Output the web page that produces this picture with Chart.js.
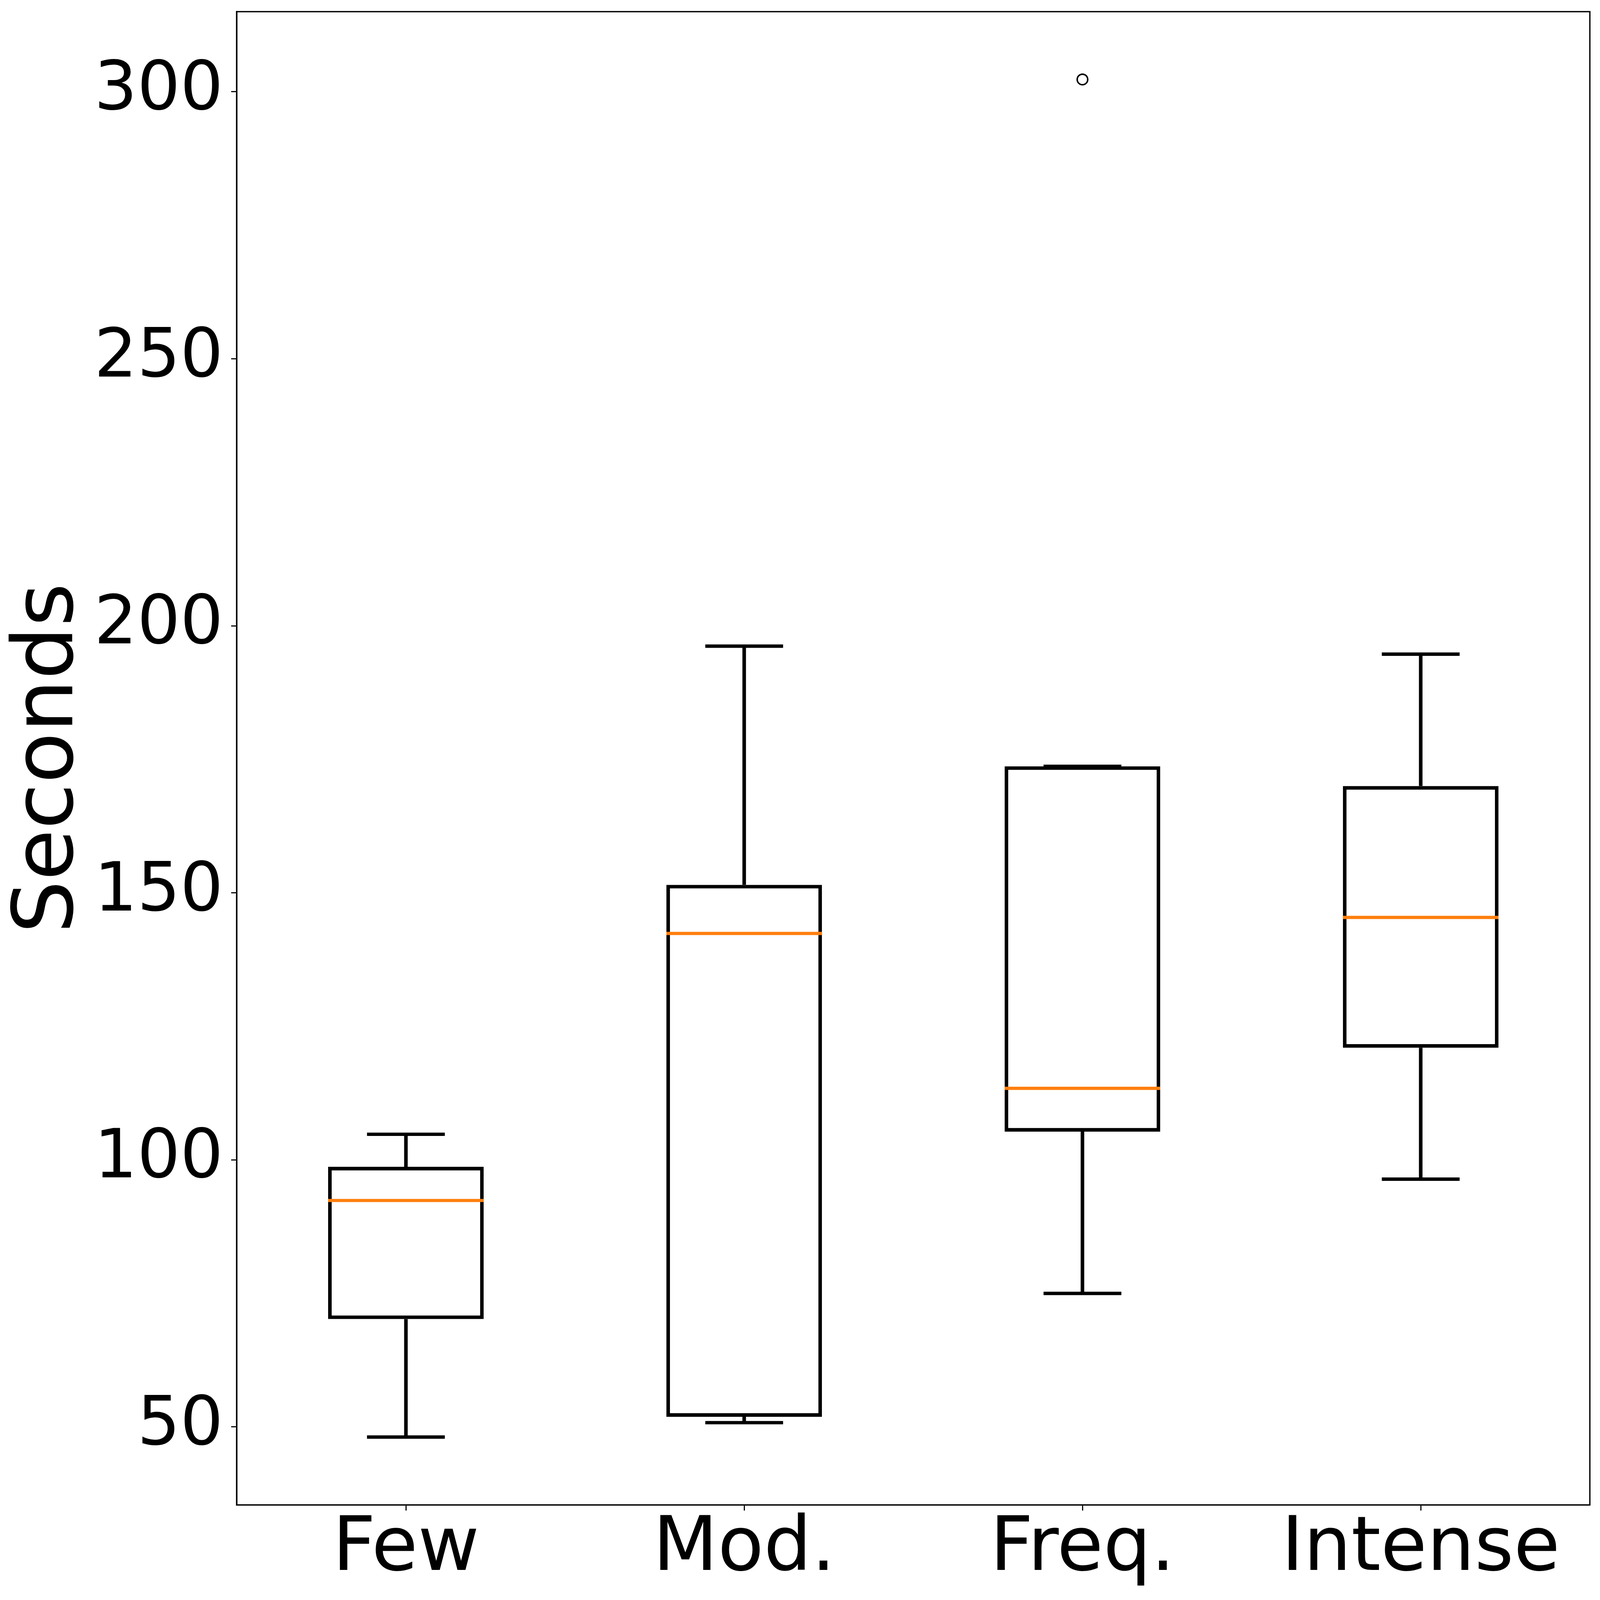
<!DOCTYPE html>
<html>
<head>
<meta charset="utf-8">
<script src="https://cdn.jsdelivr.net/npm/chart.js@4.4.1/dist/chart.umd.min.js"></script>
<style>
  html, body { margin: 0; padding: 0; background: #fff; overflow: hidden; }
  canvas { display: block; }
</style>
</head>
<body>
<canvas id="myChart"></canvas>
<script>
// data
const categories = ['Few', 'Mod.', 'Freq.', 'Intense'];
const whiskerLow = [48.1, 50.8, 75.0, 96.4];
const q1 = [70.2, 51.9, 105.3, 121.0];
const median = [92.4, 142.4, 113.4, 145.4];
const q3 = [98.7, 151.5, 173.7, 170.0];
const whiskerHigh = [104.8, 196.2, 173.7, 194.7];
const outliers = [null, null, 302.3, null];
const yTicks = [50, 100, 150, 200, 250, 300];

// sizes below are given in pixels of the 4257 px wide picture
const W = window.innerWidth, H = window.innerHeight;
const k = W / 4257;
const px = v => v * k;

const canvas = document.getElementById('myChart');
canvas.width = W;
canvas.height = H;

Chart.defaults.font.family = '"DejaVu Sans", sans-serif';
Chart.defaults.color = '#000';

// whiskers, caps, medians and the frame
const boxExtras = {
    id: 'boxExtras',
    afterDatasetsDraw(chart) {
        const ctx = chart.ctx;
        const x = chart.scales.x;
        const y = chart.scales.y;
        const bars = chart.getDatasetMeta(0).data;
        ctx.save();
        categories.forEach((c, i) => {
            const cx = x.getPixelForValue(i);
            const half = bars[i].width / 2;
            const cap = half / 2;
            const yLow = y.getPixelForValue(whiskerLow[i]);
            const yHigh = y.getPixelForValue(whiskerHigh[i]);
            ctx.strokeStyle = '#000';
            ctx.lineWidth = px(9.5);
            ctx.beginPath();
            ctx.moveTo(cx, y.getPixelForValue(q1[i]));
            ctx.lineTo(cx, yLow);
            ctx.moveTo(cx, y.getPixelForValue(q3[i]));
            ctx.lineTo(cx, yHigh);
            ctx.stroke();
            ctx.lineWidth = px(9);
            ctx.beginPath();
            ctx.moveTo(cx - cap, yLow);
            ctx.lineTo(cx + cap, yLow);
            ctx.moveTo(cx - cap, yHigh);
            ctx.lineTo(cx + cap, yHigh);
            ctx.stroke();
            // median
            const yMed = y.getPixelForValue(median[i]);
            ctx.strokeStyle = '#ff7f0e';
            ctx.lineWidth = px(8.5);
            ctx.beginPath();
            ctx.moveTo(cx - half, yMed);
            ctx.lineTo(cx + half, yMed);
            ctx.stroke();
        });
        const a = chart.chartArea;
        ctx.strokeStyle = '#000';
        ctx.lineWidth = px(3.5);
        ctx.strokeRect(a.left, a.top, a.right - a.left, a.bottom - a.top);
        ctx.restore();
    }
};

const data = {
    labels: categories,
    datasets: [{
        type: 'bar',
        data: categories.map((c, i) => [q1[i], q3[i]]),
        backgroundColor: 'rgba(0,0,0,0)',
        borderColor: '#000',
        borderWidth: px(9.5),
        borderSkipped: false,
        barPercentage: 0.46,
        categoryPercentage: 1.0
    }, {
        type: 'line',
        data: outliers,
        showLine: false,
        pointStyle: 'circle',
        pointRadius: px(14),
        pointBorderWidth: px(4),
        pointBorderColor: '#000',
        pointBackgroundColor: 'rgba(0,0,0,0)'
    }]
};

const config = {
    type: 'bar',
    data,
    options: {
        responsive: false,
        animation: false,
        layout: { padding: { top: px(31), right: px(27), left: 0, bottom: 0 } },
        plugins: {
            legend: { display: false },
            tooltip: { enabled: false }
        },
        scales: {
            x: {
                offset: true,
                grid: { display: true, offset: false, drawOnChartArea: false, tickLength: px(15), tickWidth: px(3), color: '#000' },
                border: { display: true, color: '#000', width: px(3.5) },
                ticks: { font: { size: px(200), lineHeight: 1.0 }, padding: px(6), color: '#000', maxRotation: 0 },
                afterFit(scale) {
                    scale.height = px(253);
                    scale.paddingLeft = 0;
                    scale.paddingRight = 0;
                }
            },
            y: {
                min: 35.4,
                max: 315.0,
                grid: { display: true, drawOnChartArea: false, tickLength: px(15), tickWidth: px(3), color: '#000' },
                border: { display: true, color: '#000', width: px(3.5) },
                ticks: { font: { size: px(180) }, padding: px(21), color: '#000' },
                afterBuildTicks(scale) { scale.ticks = yTicks.map(v => ({ value: v })); },
                title: {
                    display: true,
                    text: 'Seconds',
                    color: '#000',
                    font: { size: px(222), lineHeight: 1.0 },
                    padding: { top: px(24), bottom: 0 }
                },
                afterFit(scale) {
                    scale.width = px(630);
                    scale.paddingTop = 0;
                    scale.paddingBottom = 0;
                }
            }
        }
    },
    plugins: [boxExtras]
};

const myChart = new Chart(canvas, config);
</script>
</body>
</html>
